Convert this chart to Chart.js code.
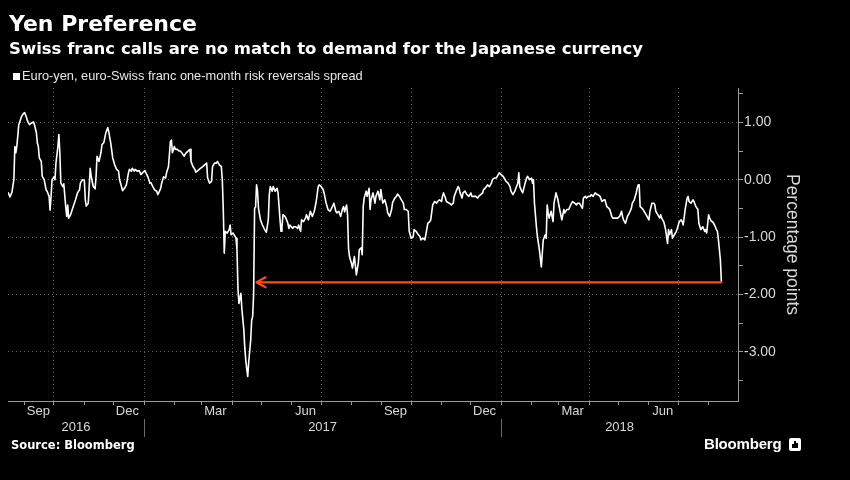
<!DOCTYPE html>
<html lang="en">
<head>
  <meta charset="UTF-8" />
  <title>Yen Preference</title>
  <script src="https://cdn.jsdelivr.net/npm/chart.js"></script>
  <style>
    html, body {
      margin: 0;
      padding: 0;
      background: #000;
    }
    .frame {
      position: relative;
      width: 850px;
      height: 480px;
      background: #000;
      overflow: hidden;
    }
    .frame canvas {
      position: absolute;
      left: 0;
      top: 0;
    }
    .txt {
      position: absolute;
      white-space: nowrap;
      color: #fff;
    }
    .title {
      left: 9px; top: 13px;
      font: bold 22px/22px "DejaVu Sans", sans-serif;
    }
    .subtitle {
      left: 9px; top: 41px;
      font: bold 16.5px/16.5px "DejaVu Sans", sans-serif;
    }
    .legend {
      left: 22px; top: 69px;
      font: 12.8px/13px "Liberation Sans", sans-serif;
      color: #e6e6e6;
    }
    .legend-box {
      position: absolute;
      left: 13px; top: 73px;
      width: 7px; height: 7px;
      background: #fff;
    }
    .source {
      left: 11px; top: 440px;
      font: bold 11.5px/11.5px "DejaVu Sans", sans-serif;
    }
    .brand {
      left: 704px; top: 436px;
      font: bold 15px/15px "Liberation Sans", sans-serif;
      letter-spacing: -0.2px;
    }
    .brand-icon {
      position: absolute;
      left: 789px; top: 438px;
      width: 12px; height: 13px;
      background: #fff;
      border-radius: 2px;
    }
    .brand-icon span {
      position: absolute;
      bottom: 3px;
      width: 2px;
      background: #000;
    }
  </style>
</head>
<body>
  <div class="frame">
    <canvas id="chart" width="850" height="480"></canvas>
    <div class="txt title">Yen Preference</div>
    <div class="txt subtitle">Swiss franc calls are no match to demand for the Japanese currency</div>
    <div class="legend-box"></div>
    <div class="txt legend">Euro-yen, euro-Swiss franc one-month risk reversals spread</div>
    <div class="txt source">Source: Bloomberg</div>
    <div class="txt brand">Bloomberg</div>
    <div class="brand-icon">
      <span style="left:3px;height:4px"></span>
      <span style="left:5px;height:7px"></span>
      <span style="left:7px;height:5px"></span>
    </div>
  </div>

  <script>
    // euro-yen minus euro-Swiss franc 1M risk reversals
    const dates = [
      '2016-08-15','2016-08-17','2016-08-19','2016-08-21','2016-08-22','2016-08-23','2016-08-24','2016-08-25','2016-08-26','2016-08-29','2016-08-31',
      '2016-09-01','2016-09-03','2016-09-04','2016-09-06','2016-09-08','2016-09-10','2016-09-11','2016-09-13','2016-09-14','2016-09-15','2016-09-16',
      '2016-09-18','2016-09-19','2016-09-21','2016-09-23','2016-09-24','2016-09-26','2016-09-27','2016-09-28','2016-09-29',
      '2016-10-01','2016-10-02','2016-10-03','2016-10-05','2016-10-06','2016-10-07','2016-10-08','2016-10-10','2016-10-11','2016-10-13','2016-10-14',
      '2016-10-15','2016-10-16','2016-10-18','2016-10-20','2016-10-23','2016-10-25','2016-10-27','2016-10-28','2016-10-30',
      '2016-11-01','2016-11-02','2016-11-03','2016-11-05','2016-11-06','2016-11-07','2016-11-08','2016-11-10','2016-11-12','2016-11-13','2016-11-14',
      '2016-11-16','2016-11-18','2016-11-19','2016-11-21','2016-11-23','2016-11-25','2016-11-26','2016-11-28','2016-11-30',
      '2016-12-02','2016-12-04','2016-12-06','2016-12-07','2016-12-09','2016-12-10','2016-12-12','2016-12-14','2016-12-16','2016-12-17','2016-12-19',
      '2016-12-20','2016-12-22','2016-12-23','2016-12-25','2016-12-27','2016-12-29','2016-12-31',
      '2017-01-02','2017-01-03','2017-01-05','2017-01-07','2017-01-08','2017-01-10','2017-01-12','2017-01-14','2017-01-15','2017-01-16','2017-01-18',
      '2017-01-19','2017-01-21','2017-01-23','2017-01-24','2017-01-26','2017-01-28','2017-01-29','2017-01-30',
      '2017-02-01','2017-02-02','2017-02-04','2017-02-06','2017-02-07','2017-02-09','2017-02-11','2017-02-13','2017-02-15','2017-02-17','2017-02-18',
      '2017-02-20','2017-02-22','2017-02-23','2017-02-25','2017-02-27',
      '2017-03-02','2017-03-06','2017-03-07','2017-03-09','2017-03-11','2017-03-12','2017-03-14','2017-03-16','2017-03-17','2017-03-19','2017-03-21',
      '2017-03-22','2017-03-23','2017-03-24','2017-03-25','2017-03-27','2017-03-29','2017-03-30','2017-03-31',
      '2017-04-02','2017-04-04','2017-04-05','2017-04-06','2017-04-07','2017-04-08','2017-04-10','2017-04-11','2017-04-13','2017-04-14','2017-04-15',
      '2017-04-16','2017-04-17','2017-04-18','2017-04-20','2017-04-21','2017-04-22','2017-04-23','2017-04-24','2017-04-25','2017-04-26','2017-04-27',
      '2017-04-28','2017-04-30',
      '2017-05-02','2017-05-04','2017-05-06','2017-05-08','2017-05-09','2017-05-10','2017-05-12','2017-05-13','2017-05-15','2017-05-17','2017-05-18',
      '2017-05-20','2017-05-21','2017-05-22','2017-05-23','2017-05-25','2017-05-26','2017-05-28','2017-05-29','2017-05-30',
      '2017-06-02','2017-06-03','2017-06-05','2017-06-07','2017-06-08','2017-06-10','2017-06-11','2017-06-13','2017-06-15','2017-06-16','2017-06-18',
      '2017-06-20','2017-06-22','2017-06-24','2017-06-26','2017-06-28','2017-06-29',
      '2017-07-01','2017-07-03','2017-07-04','2017-07-06','2017-07-08','2017-07-10','2017-07-11','2017-07-13','2017-07-14','2017-07-16','2017-07-17',
      '2017-07-19','2017-07-21','2017-07-23','2017-07-24','2017-07-25','2017-07-27','2017-07-28','2017-07-29','2017-07-30',
      '2017-08-01','2017-08-02','2017-08-04','2017-08-06','2017-08-08','2017-08-09','2017-08-11','2017-08-12','2017-08-13','2017-08-14','2017-08-16',
      '2017-08-17','2017-08-19','2017-08-20','2017-08-21','2017-08-23','2017-08-25','2017-08-26','2017-08-28','2017-08-30','2017-08-31',
      '2017-09-02','2017-09-04','2017-09-06','2017-09-07','2017-09-09','2017-09-11','2017-09-12','2017-09-14','2017-09-16','2017-09-17','2017-09-19',
      '2017-09-21','2017-09-23','2017-09-24','2017-09-26','2017-09-28','2017-09-29',
      '2017-10-01','2017-10-03','2017-10-04','2017-10-06','2017-10-08','2017-10-10','2017-10-11','2017-10-13','2017-10-15','2017-10-16','2017-10-18',
      '2017-10-20','2017-10-21','2017-10-23','2017-10-25','2017-10-27','2017-10-28','2017-10-30',
      '2017-11-01','2017-11-02','2017-11-03','2017-11-05','2017-11-06','2017-11-09','2017-11-11','2017-11-13','2017-11-14','2017-11-16','2017-11-18',
      '2017-11-19','2017-11-20','2017-11-22','2017-11-23','2017-11-25','2017-11-27','2017-11-29',
      '2017-12-01','2017-12-02','2017-12-04','2017-12-06','2017-12-08','2017-12-09','2017-12-11','2017-12-13','2017-12-14','2017-12-15','2017-12-17',
      '2017-12-18','2017-12-20','2017-12-22','2017-12-23','2017-12-25','2017-12-27','2017-12-28','2017-12-30',
      '2018-01-01','2018-01-03','2018-01-04','2018-01-06','2018-01-08','2018-01-10','2018-01-11','2018-01-13','2018-01-15','2018-01-16','2018-01-18',
      '2018-01-19','2018-01-20','2018-01-22','2018-01-23','2018-01-25','2018-01-27','2018-01-28','2018-01-30',
      '2018-02-01','2018-02-02','2018-02-03','2018-02-04','2018-02-06','2018-02-07','2018-02-09','2018-02-11','2018-02-12','2018-02-13','2018-02-15',
      '2018-02-16','2018-02-17','2018-02-18','2018-02-19','2018-02-21','2018-02-23','2018-02-24','2018-02-26','2018-02-28',
      '2018-03-01','2018-03-03','2018-03-04','2018-03-06','2018-03-07','2018-03-09','2018-03-11','2018-03-13','2018-03-15','2018-03-17','2018-03-19',
      '2018-03-20','2018-03-22','2018-03-24','2018-03-25','2018-03-26','2018-03-28','2018-03-29','2018-03-31',
      '2018-04-02','2018-04-03','2018-04-05','2018-04-07','2018-04-09','2018-04-10','2018-04-12','2018-04-14','2018-04-16','2018-04-17','2018-04-19',
      '2018-04-21','2018-04-22','2018-04-24','2018-04-25','2018-04-27','2018-04-28','2018-04-30',
      '2018-05-02','2018-05-04','2018-05-05','2018-05-06','2018-05-08','2018-05-09','2018-05-10','2018-05-12','2018-05-14','2018-05-15','2018-05-17',
      '2018-05-19','2018-05-20','2018-05-21','2018-05-22','2018-05-23','2018-05-25','2018-05-26','2018-05-28','2018-05-30',
      '2018-06-01','2018-06-02','2018-06-04','2018-06-06','2018-06-07','2018-06-08','2018-06-10','2018-06-12','2018-06-13','2018-06-14','2018-06-16',
      '2018-06-17','2018-06-18','2018-06-20','2018-06-21','2018-06-22','2018-06-24','2018-06-25','2018-06-27','2018-06-29','2018-06-30',
      '2018-07-02','2018-07-04','2018-07-05','2018-07-06','2018-07-08','2018-07-10','2018-07-11','2018-07-12','2018-07-14','2018-07-16','2018-07-17',
      '2018-07-19','2018-07-21','2018-07-22','2018-07-24','2018-07-26','2018-07-28','2018-07-29','2018-07-30',
      '2018-08-01','2018-08-02','2018-08-04','2018-08-05','2018-08-07','2018-08-09','2018-08-10','2018-08-11','2018-08-13','2018-08-14'
    ];

    const spread = [
      -0.22,-0.30,-0.22,0.00,0.58,0.47,0.58,0.76,0.96,1.11,1.16,
      1.17,1.08,1.02,0.96,0.99,1.01,0.96,0.82,0.64,0.58,0.38,
      0.32,0.06,0.00,-0.18,-0.20,-0.29,-0.53,-0.29,0.00,
      0.05,0.00,0.29,0.58,0.79,0.47,-0.06,-0.12,-0.07,-0.47,-0.64,
      -0.44,-0.67,-0.61,-0.50,-0.35,-0.23,-0.18,-0.06,0.00,
      -0.01,-0.35,-0.46,-0.41,-0.12,0.20,0.06,-0.11,-0.16,0.06,0.41,
      0.32,0.47,0.61,0.65,0.82,0.91,0.83,0.64,0.38,
      0.26,0.18,0.15,0.00,-0.12,-0.19,-0.15,-0.09,0.11,0.18,0.15,
      0.20,0.15,0.18,0.15,0.16,0.09,0.13,
      0.16,0.12,0.05,-0.06,-0.05,-0.12,-0.18,-0.20,-0.26,-0.23,-0.15,
      -0.06,0.05,0.03,0.12,0.23,0.67,0.69,0.47,
      0.58,0.53,0.53,0.50,0.50,0.46,0.41,0.47,0.50,0.53,0.32,
      0.23,0.18,0.13,0.16,0.19,
      0.23,0.29,0.03,-0.06,-0.03,0.23,0.29,0.29,0.32,0.26,0.23,
      0.00,-0.52,-1.28,-0.90,-0.93,-0.87,-0.79,-0.96,
      -0.93,-0.99,-1.02,-1.22,-1.90,-2.16,-1.98,-2.25,-2.62,-2.93,-3.15,
      -3.30,-3.43,-3.18,-2.80,-2.45,-2.39,-2.00,-0.50,-0.48,-0.09,-0.20,
      -0.50,-0.70,
      -0.79,-0.86,-0.92,-0.70,-0.26,-0.12,-0.20,-0.12,-0.20,-0.15,-0.23,
      -0.70,-0.90,-0.82,-0.61,-0.64,-0.67,-0.76,-0.85,-0.79,
      -0.85,-0.82,-0.82,-0.85,-0.79,-0.90,-0.70,-0.73,-0.67,-0.61,-0.70,
      -0.55,-0.64,-0.55,-0.38,-0.12,-0.09,
      -0.12,-0.17,-0.23,-0.40,-0.52,-0.55,-0.52,-0.45,-0.41,-0.55,-0.58,
      -0.55,-0.64,-0.50,-0.47,-0.56,-0.44,-0.61,-1.20,-1.34,
      -1.46,-1.54,-1.34,-1.66,-1.45,-1.22,-1.19,-1.31,-0.47,-0.32,-0.20,
      -0.29,-0.15,-0.52,-0.35,-0.23,-0.41,-0.29,-0.20,-0.35,-0.17,
      -0.41,-0.35,-0.47,-0.58,-0.64,-0.52,-0.40,-0.33,-0.29,-0.25,-0.29,
      -0.35,-0.41,-0.52,-0.52,-0.55,-0.90,
      -1.02,-1.00,-0.87,-0.90,-0.95,-0.99,-1.05,-1.02,-1.05,-0.96,-0.76,
      -0.73,-0.70,-0.44,-0.38,-0.41,-0.38,-0.35,
      -0.38,-0.29,-0.23,-0.32,-0.38,-0.41,-0.44,-0.41,-0.29,-0.20,-0.12,
      -0.15,-0.23,-0.32,-0.23,-0.20,-0.26,-0.29,
      -0.23,-0.29,-0.29,-0.29,-0.32,-0.29,-0.26,-0.23,-0.17,-0.16,-0.12,
      -0.09,-0.12,-0.06,0.00,0.03,0.03,0.06,0.12,
      0.09,0.06,0.03,-0.03,-0.06,-0.12,-0.20,-0.26,-0.20,-0.15,-0.06,
      0.12,-0.12,-0.20,-0.23,-0.09,0.03,0.06,0.00,
      0.03,-0.06,0.00,-0.41,-0.82,-0.99,-1.22,-1.52,-1.28,-1.05,-0.96,
      -1.02,-0.44,-0.58,-0.67,-0.55,-0.73,-0.41,-0.23,-0.35,
      -0.45,-0.62,-0.70,-0.52,-0.58,-0.52,-0.52,-0.44,-0.38,-0.41,-0.44,
      -0.41,-0.41,-0.47,-0.50,-0.32,-0.29,-0.32,-0.29,
      -0.29,-0.26,-0.29,-0.23,-0.26,-0.26,-0.29,-0.38,-0.35,-0.35,-0.47,
      -0.50,-0.52,-0.64,-0.67,-0.67,-0.67,-0.67,
      -0.64,-0.55,-0.64,-0.70,-0.76,-0.70,-0.64,-0.58,-0.50,-0.41,-0.35,
      -0.23,-0.15,-0.09,-0.09,-0.47,-0.50,-0.52,-0.58,-0.64,
      -0.70,-0.55,-0.41,-0.41,-0.44,-0.55,-0.61,-0.67,-0.61,-0.67,-0.73,
      -0.79,-0.87,-1.11,-0.87,-0.96,-0.87,-1.02,-0.96,-0.90,-0.85,
      -0.73,-0.70,-0.73,-0.79,-0.52,-0.32,-0.29,-0.38,-0.41,-0.35,-0.38,
      -0.47,-0.52,-0.76,-0.87,-0.82,-0.90,-0.87,-0.93,
      -0.61,-0.67,-0.73,-0.73,-0.79,-0.87,-0.90,-1.05,-1.40,-1.78
    ];

    // axis labels
    const monthLabels = ['Sep', 'Dec', 'Mar', 'Jun', 'Sep', 'Dec', 'Mar', 'Jun'];
    const monthLabelDates = ['2016-09-15', '2016-12-15', '2017-03-15', '2017-06-15',
                             '2017-09-15', '2017-12-15', '2018-03-15', '2018-06-15'];
    const yearLabels = ['2016', '2017', '2018'];
    const yTickLabels = ['-3.00', '-2.00', '-1.00', '0.00', '1.00'];

    const axisStart = '2016-08-15';
    const axisEnd = '2018-08-31';

    // red arrow pointing from the latest reading back to the April 2017 level
    const arrowFrom = '2018-08-14';
    const arrowTo = '2017-04-26';
    const arrowLevel = -1.79;

    const DAY = 86400000;
    function dayNum(s) {
      const [y, m, d] = s.split('-').map(Number);
      return Date.UTC(y, m - 1, d) / DAY;
    }

    const xMin = dayNum(axisStart);
    const xMax = dayNum(axisEnd);

    const faint = 'rgba(0,0,0,0)';
    const gridGrey = '#5c5c5c';
    const axisGrey = '#9a9a9a';
    const labelGrey = '#d8d8d8';

    function monthTicks() {
      const out = [];
      const s = new Date(xMin * DAY);
      let y = s.getUTCFullYear(), m = s.getUTCMonth() + 1;
      for (;;) {
        const v = Date.UTC(y, m, 1) / DAY;
        if (v > xMax) break;
        out.push({ value: v, kind: 'month', quarter: (m % 12) % 3 === 0 });
        m++;
      }
      monthLabelDates.forEach((d, i) => {
        out.push({ value: dayNum(d), kind: 'label', text: monthLabels[i] });
      });
      return out.sort((a, b) => a.value - b.value);
    }

    function yearTicks() {
      return yearLabels.map(yr => {
        const a = Math.max(dayNum(yr + '-01-01'), xMin);
        const b = Math.min(dayNum((+yr + 1) + '-01-01'), xMax);
        return { value: (a + b) / 2, text: yr };
      });
    }

    const yearSeparators = {
      id: 'yearSeparators',
      afterDraw(chart) {
        const { ctx, scales: { x, xy } } = chart;
        ctx.save();
        ctx.strokeStyle = '#6a6a6a';
        ctx.lineWidth = 1;
        yearLabels.slice(1).forEach(yr => {
          const px = Math.round(x.getPixelForValue(dayNum(yr + '-01-01'))) + 0.5;
          ctx.beginPath();
          ctx.moveTo(px, xy.top - 1);
          ctx.lineTo(px, xy.bottom);
          ctx.stroke();
        });
        ctx.restore();
      }
    };

    const arrowPlugin = {
      id: 'arrow',
      afterDatasetsDraw(chart) {
        const { ctx, scales: { x, y } } = chart;
        const x1 = x.getPixelForValue(dayNum(arrowFrom));
        const x2 = x.getPixelForValue(dayNum(arrowTo));
        const py = y.getPixelForValue(arrowLevel);
        ctx.save();
        ctx.strokeStyle = '#ff4a1c';
        ctx.lineWidth = 2.2;
        ctx.lineCap = 'round';
        ctx.lineJoin = 'round';
        ctx.beginPath();
        ctx.moveTo(x1, py);
        ctx.lineTo(x2 + 1, py);
        ctx.stroke();
        ctx.beginPath();
        ctx.moveTo(x2 + 9, py - 5);
        ctx.lineTo(x2, py);
        ctx.lineTo(x2 + 9, py + 5);
        ctx.stroke();
        ctx.restore();
      }
    };

    const ctx = document.getElementById('chart').getContext('2d');
    new Chart(ctx, {
      type: 'line',
      data: {
        datasets: [{
          label: 'Euro-yen, euro-Swiss franc one-month risk reversals spread',
          data: dates.map((d, i) => ({ x: dayNum(d), y: spread[i] })),
          borderColor: '#ffffff',
          borderWidth: 1.6,
          borderJoinStyle: 'round',
          pointRadius: 0,
          tension: 0,
          fill: false
        }]
      },
      options: {
        responsive: false,
        animation: false,
        devicePixelRatio: 1,
        layout: { padding: { left: 8, right: 45, top: 88, bottom: 43 } },
        plugins: {
          legend: { display: false },
          tooltip: { enabled: false },
          title: { display: false }
        },
        scales: {
          x: {
            type: 'linear',
            position: 'bottom',
            min: xMin,
            max: xMax,
            afterBuildTicks: s => { s.ticks = monthTicks(); },
            afterFit: s => { s.height = 19; },
            grid: {
              color: c => (c.tick && c.tick.quarter ? gridGrey : faint),
              tickColor: c => (c.tick && c.tick.kind === 'month' ? axisGrey : faint),
              tickLength: 4,
              drawTicks: true
            },
            border: { display: true, color: axisGrey, width: 1, dash: [1, 3] },
            ticks: {
              autoSkip: false,
              maxRotation: 0,
              padding: -1,
              color: labelGrey,
              font: { family: 'Liberation Sans', size: 13 },
              callback: (v, i, ticks) => ticks[i].text || ''
            }
          },
          xy: {
            type: 'linear',
            position: 'bottom',
            min: xMin,
            max: xMax,
            afterBuildTicks: s => { s.ticks = yearTicks(); },
            afterFit: s => { s.height = 17; },
            grid: { display: false, drawTicks: false },
            border: { display: false },
            ticks: {
              autoSkip: false,
              maxRotation: 0,
              padding: 0,
              color: labelGrey,
              font: { family: 'Liberation Sans', size: 13 },
              callback: (v, i, ticks) => ticks[i].text
            }
          },
          y: {
            type: 'linear',
            position: 'right',
            min: -3.86,
            max: 1.6,
            afterBuildTicks: s => {
              const t = [];
              for (let v = -3.5; v <= 1.5; v += 0.5) t.push({ value: v });
              s.ticks = t;
            },
            afterFit: s => { s.width = 67; },
            grid: {
              color: c => (c.tick && Number.isInteger(c.tick.value) ? gridGrey : faint),
              tickColor: axisGrey,
              tickLength: 5
            },
            border: { display: true, color: axisGrey, width: 1, dash: [1, 3] },
            ticks: {
              padding: 1,
              color: labelGrey,
              font: { family: 'Liberation Sans', size: 14 },
              callback: v => (Number.isInteger(v) ? yTickLabels[v + 3] : '')
            },
            title: {
              display: true,
              text: 'Percentage points',
              color: labelGrey,
              font: { family: 'Liberation Sans', size: 17.5 },
              padding: { top: 3, bottom: 0 }
            }
          }
        }
      },
      plugins: [yearSeparators, arrowPlugin]
    });
  </script>
</body>
</html>
